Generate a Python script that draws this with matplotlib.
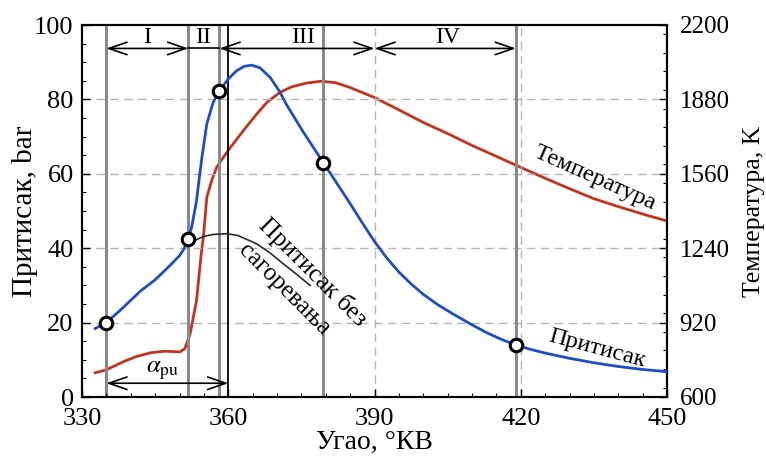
import numpy as np
import matplotlib
matplotlib.use("Agg")
import matplotlib.pyplot as plt
from matplotlib.ticker import MultipleLocator

plt.rcParams['font.family'] = ['Liberation Serif', 'DejaVu Serif']
plt.rcParams['mathtext.fontset'] = 'stix'

# ---- data ----
angle_p = [332.7, 335, 338, 342, 345, 348, 350, 351, 351.8, 352.5, 353.5, 354, 354.6, 355.6,
           356.9, 358.2, 360, 361.7, 363.3, 364.8, 366.5, 368.6, 370.5, 372, 375.4,
           379.5, 382, 385, 387.5, 390, 392.5, 395, 397.5, 400, 403, 406, 410, 413, 416,
           419, 422, 425, 430, 435, 440, 445, 450]
pressure = [18.4, 20, 23.5, 28.5, 31.5, 35.3, 38, 40, 42.5, 45.7, 52.8, 58.3, 64.4, 73.4,
            79.2, 82.3, 85.5, 87.7, 88.9, 89.2, 88.5, 85.9, 82.2, 78.5, 71.2,
            63, 58, 52, 46.8, 41.8, 37.4, 33.6, 30.4, 27.6, 24.8, 22.4, 19.4, 17.3, 15.5,
            14, 12.8, 11.8, 10.4, 9.2, 8.2, 7.4, 6.8]

angle_t = [332.7, 335, 338.5, 341, 344, 347, 350.1, 351.1, 352.2, 353.5, 354.5, 354.9,
           355.6, 356.6, 357.6, 358.5, 360.4, 363.1, 365.8, 368, 370.6, 373, 376, 379,
           382, 385, 390, 395, 400, 405.5, 410, 415, 419.2, 425, 430, 435, 440, 445, 450]
temperature = [704, 717, 752, 773, 790, 797, 794, 808, 874, 1016, 1224, 1288,
               1459, 1531, 1587, 1616, 1672, 1746, 1816, 1869, 1910, 1934, 1950, 1958,
               1952, 1931, 1888, 1835, 1781, 1728, 1682, 1635, 1595, 1541, 1496, 1453, 1419, 1387, 1357]

angle_m = [351.5, 353, 355, 357, 359.7, 362, 365.8, 368.5, 371.3, 374, 376.8]
motoring = [40.5, 42, 43.2, 43.7, 43.9, 43.4, 41.2, 38.8, 35.8, 33, 30]

marker_angles = [335, 351.8, 358.2, 379.5, 419]
marker_pressure = [20, 42.5, 82.3, 63, 14]

phase_bounds = [335, 351.8, 358.2, 390, 419]
phase_labels = ['I', 'II', 'III', 'IV']
phase_label_x = [343.3, 354.8, 375.3, 405]

x_ticks = [330, 360, 390, 420, 450]
y_ticks = [0, 20, 40, 60, 80, 100]
t_ticks = [600, 920, 1240, 1560, 1880, 2200]

# ---- figure ----
fig = plt.figure(figsize=(7.66, 4.59), dpi=100)
ax = fig.add_axes([82/766, 62/459, 585/766, 372/459])
ax2 = ax.twinx()

ax.set_xlim(330, 450)
ax.set_ylim(0, 100)
ax2.set_ylim(600, 2200)

grid_kw = dict(color='#b5b5b5', lw=1.0, dashes=(6, 4), zorder=0)
for y in [20, 40, 60, 80]:
    ax.axhline(y, **grid_kw)
for x in [390, 420]:
    ax.axvline(x, **grid_kw)

for x in marker_angles:
    ax.axvline(x, color='#8a8a8a', lw=2.2, zorder=1)
ax.axvline(360, color='black', lw=1.3, zorder=1)

blue = '#1f4ec4'
red = '#c3341f'
ax.plot(angle_m, motoring, color='#2a2a2a', lw=1.2, zorder=2)
ax2.plot(angle_t, temperature, color=red, lw=2.0, zorder=3)
ax.plot(angle_p, pressure, color=blue, lw=2.0, zorder=3)
ax.set_zorder(ax2.get_zorder() + 1)
ax.patch.set_visible(False)
ax.plot(marker_angles, marker_pressure, 'o', ms=9, mfc='white', mec='black', mew=2.2, zorder=5)

# phase arrows
ya = 93.7
arr = dict(arrowstyle='<->,head_length=1.3,head_width=0.45', lw=1.2, color='black',
           shrinkA=0, shrinkB=0)
for a, b in [(phase_bounds[0], phase_bounds[1]), (phase_bounds[2], phase_bounds[3]),
             (phase_bounds[3], phase_bounds[4])]:
    ax.annotate('', xy=(b, ya), xytext=(a, ya), arrowprops=arr, zorder=6)
ax.plot([phase_bounds[1], phase_bounds[2]], [ya, ya], color='black', lw=1.2)
for lab, x in zip(phase_labels, phase_label_x):
    ax.text(x, 96.6, lab, ha='center', va='center', fontsize=17)

# alpha_pu arrow
ax.annotate('', xy=(360, 3.7), xytext=(335, 3.7), arrowprops=arr, zorder=6)
ax.text(346.5, 7.0, r'$\alpha_{\rm pu}$', ha='center', va='center', fontsize=18)

# curve labels
ax.text(377.4, 33.5, 'Притисак без', rotation=-45, rotation_mode='anchor',
        ha='center', va='center', fontsize=18)
ax.text(371.4, 29.0, 'сагоревања', rotation=-45, rotation_mode='anchor',
        ha='center', va='center', fontsize=18)
ax.text(435.2, 58.7, 'Температура', rotation=-24, rotation_mode='anchor',
        ha='center', va='center', fontsize=17.5)
ax.text(435.6, 13.1, 'Притисак', rotation=-15, rotation_mode='anchor',
        ha='center', va='center', fontsize=17.5)

# ticks
ax.set_xticks(x_ticks)
ax.set_yticks(y_ticks)
ax2.set_yticks(t_ticks)
ax.xaxis.set_minor_locator(MultipleLocator(5))
ax.yaxis.set_minor_locator(MultipleLocator(5))
ax2.yaxis.set_minor_locator(MultipleLocator(80))
ax.tick_params(which='both', direction='in', labelsize=19, top=False, right=False)
ax.tick_params(which='major', length=6, width=1)
ax.tick_params(which='minor', length=3, width=0.8)
ax.tick_params(axis='y', pad=6)
ax.tick_params(axis='x', pad=8)
ax2.tick_params(which='both', direction='in', labelsize=18, pad=9)
ax2.tick_params(which='major', length=6, width=1)
ax2.tick_params(which='minor', length=3, width=0.8)

for sp in ax.spines.values():
    sp.set_linewidth(1.5)
for sp in ax2.spines.values():
    sp.set_linewidth(1.5)

ax.set_xlabel('Угао, °КВ', fontsize=20, labelpad=0)
ax.set_ylabel('Притисак, bar', fontsize=21, labelpad=-3)
ax2.set_ylabel('Температура, K', fontsize=18.5, labelpad=10)

fig.savefig('out.png', dpi=100)
